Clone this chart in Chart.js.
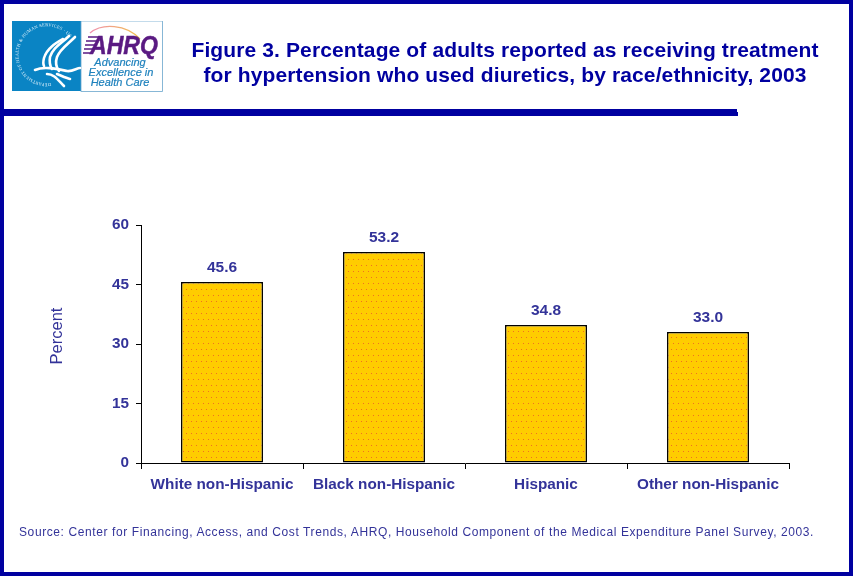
<!DOCTYPE html>
<html>
<head>
<meta charset="utf-8">
<title>Figure 3</title>
<style>
  html, body { margin: 0; padding: 0; background: #fff; }
  #page { position: relative; width: 853px; height: 576px; overflow: hidden; font-family: "Liberation Sans", Arial, sans-serif; }
  #frame { position: absolute; left: 0; top: 0; width: 845px; height: 568px; border: 4px solid #0000a0; }
  #bareCanvas { position: absolute; left: 0; top: 0; }
  #title { position: absolute; left: 155px; top: 37px; width: 700px; text-align: center; color: #0000a0; font-weight: bold; font-size: 21px; letter-spacing: 0.12px; line-height: 25px; white-space: nowrap; }
  #rule1 { position: absolute; left: 0; top: 109px; width: 737px; height: 3px; background: #0000a0; }
  #rule2 { position: absolute; left: 0; top: 112px; width: 738px; height: 4px; background: #0000a0; }
  #source { position: absolute; left: 19px; top: 525px; color: #333399; font-size: 12px; letter-spacing: 0.6px; white-space: nowrap; }
  #logo { position: absolute; left: 12px; top: 21px; }
</style>
</head>
<body>
<div id="page">
  <canvas id="bareCanvas" width="853" height="576"></canvas>
  <div id="frame"></div>
  <svg id="logo" width="151" height="71" viewBox="0 0 151 71">
    <defs>
      <path id="seal" d="M 39 62 A 28.5 28.5 0 1 1 58 17"/>
      <linearGradient id="arc" x1="0" x2="1" y1="0" y2="0">
        <stop offset="0" stop-color="#f08fb0"/>
        <stop offset="1" stop-color="#f2c24a"/>
      </linearGradient>
    </defs>
    <rect x="0" y="0" width="69" height="70" fill="#0a84c4"/>
    <rect x="69" y="0" width="81.5" height="70.5" fill="#fff" stroke="#6aa6cc" stroke-width="0.8"/>
    <text font-size="4.5" fill="#dff1fb" font-family="Liberation Serif" letter-spacing="0.22"><textPath href="#seal">DEPARTMENT OF HEALTH &amp; HUMAN SERVICES · USA</textPath></text>
    <g fill="none" stroke="#fff" stroke-width="2.6" stroke-linecap="round">
      <path d="M 63 16 C 55 24 48 28 45 36 C 43 42 44 46 47 50"/>
      <path d="M 57 15 C 50 22 41 26 38 36 C 37 42 38 45 40 48"/>
      <path d="M 51 18 C 44 22 35 27 32 37 C 31 41 31 43 32 45"/>
      <path d="M 23 49 C 32 45 45 48 55 50 C 60 51 65 47 68 47"/>
      <path d="M 35 53 C 42 53 46 59 52 65"/>
      <path d="M 45 53 C 50 55 54 57 58 58"/>
    </g>
    <path d="M 78 12 C 90 2 114 3 128 18" fill="none" stroke="url(#arc)" stroke-width="1.4"/>
    <g stroke="#5a1a82" stroke-width="1.5">
      <path d="M 76 16 H 87 M 74 20 H 85 M 73 24 H 84 M 72 28 H 83 M 71 32 H 80"/>
    </g>
    <text x="78" y="33" font-size="26" font-weight="bold" font-style="italic" fill="#5a1a82" stroke="#5a1a82" stroke-width="0.5" textLength="68" lengthAdjust="spacingAndGlyphs">AHRQ</text>
    <g font-size="11" font-style="italic" fill="#1f82bd" stroke="#1f82bd" stroke-width="0.2" text-anchor="middle">
      <text x="108" y="45">Advancing</text>
      <text x="109" y="55">Excellence in</text>
      <text x="108" y="65">Health Care</text>
    </g>
  </svg>
  <div id="title">Figure 3. Percentage of adults reported as receiving treatment<br>for hypertension who used diuretics, by race/ethnicity, 2003</div>
  <div id="rule1"></div>
  <div id="rule2"></div>
  <div id="source">Source: Center for Financing, Access, and Cost Trends, AHRQ, Household Component of the Medical Expenditure Panel Survey, 2003.</div>
</div>

<script src="https://cdn.jsdelivr.net/npm/chart.js"></script>
<script>
  const categories = ['White non-Hispanic', 'Black non-Hispanic', 'Hispanic', 'Other non-Hispanic'];
  const percentValues = [45.6, 53.2, 34.8, 33.0];
  const valueLabels = ['45.6', '53.2', '34.8', '33.0'];
  const tickValues = [0, 15, 30, 45, 60];

  const INK = '#333399';
  const FONT = '"Liberation Sans", Arial, sans-serif';

  // gold fill with small orange specks
  function speckle() {
    const c = document.createElement('canvas');
    c.width = 10; c.height = 12;
    const g = c.getContext('2d');
    g.fillStyle = '#ffcc00';
    g.fillRect(0, 0, 10, 12);
    g.fillStyle = '#f07020';
    [[1, 1], [6, 1], [3, 7], [8, 7]].forEach(p => g.fillRect(p[0], p[1], 1, 1));
    return g.createPattern(c, 'repeat');
  }

  const barLabels = {
    id: 'barLabels',
    afterDatasetsDraw(chart) {
      const ctx = chart.ctx;
      ctx.save();
      ctx.fillStyle = INK;
      ctx.font = 'bold 15.5px ' + FONT;
      ctx.textAlign = 'center';
      ctx.textBaseline = 'middle';
      chart.getDatasetMeta(0).data.forEach((bar, i) => {
        ctx.fillText(valueLabels[i], bar.x, bar.y - 14);
      });
      // axis title sits a little above the middle of the axis
      ctx.translate(57, (chart.chartArea.top + chart.chartArea.bottom) / 2 - 8);
      ctx.rotate(-Math.PI / 2);
      ctx.font = '16.5px ' + FONT;
      ctx.fillText('Percent', 0, 0);
      ctx.restore();
    }
  };

  new Chart(document.getElementById('bareCanvas').getContext('2d'), {
    type: 'bar',
    data: {
      labels: categories,
      datasets: [{
        data: percentValues,
        backgroundColor: speckle(),
        borderColor: '#000',
        borderWidth: 1.5,
        borderSkipped: false,
        categoryPercentage: 1,
        barPercentage: 0.506
      }]
    },
    options: {
      responsive: false,
      animation: false,
      devicePixelRatio: 1,
      layout: { padding: { left: 0, top: 225, right: 64, bottom: 0 } },
      scales: {
        x: {
          afterFit: s => { s.height = 113; },
          grid: { drawOnChartArea: false, color: '#000', tickLength: 6, offset: true },
          border: { color: '#000', width: 1 },
          ticks: { color: INK, font: { family: FONT, size: 15.3, weight: 'bold' }, padding: 7, maxRotation: 0 }
        },
        y: {
          min: 0,
          max: 60,
          afterFit: s => { s.width = 141; },
          afterBuildTicks: s => { s.ticks = tickValues.map(v => ({ value: v })); },
          grid: { drawOnChartArea: false, color: '#000', tickLength: 5 },
          border: { color: '#000', width: 1 },
          ticks: { color: INK, font: { family: FONT, size: 15.3, weight: 'bold' }, padding: 7 }
        }
      },
      plugins: {
        legend: { display: false },
        tooltip: { enabled: false }
      }
    },
    plugins: [barLabels]
  });
</script>
</body>
</html>
